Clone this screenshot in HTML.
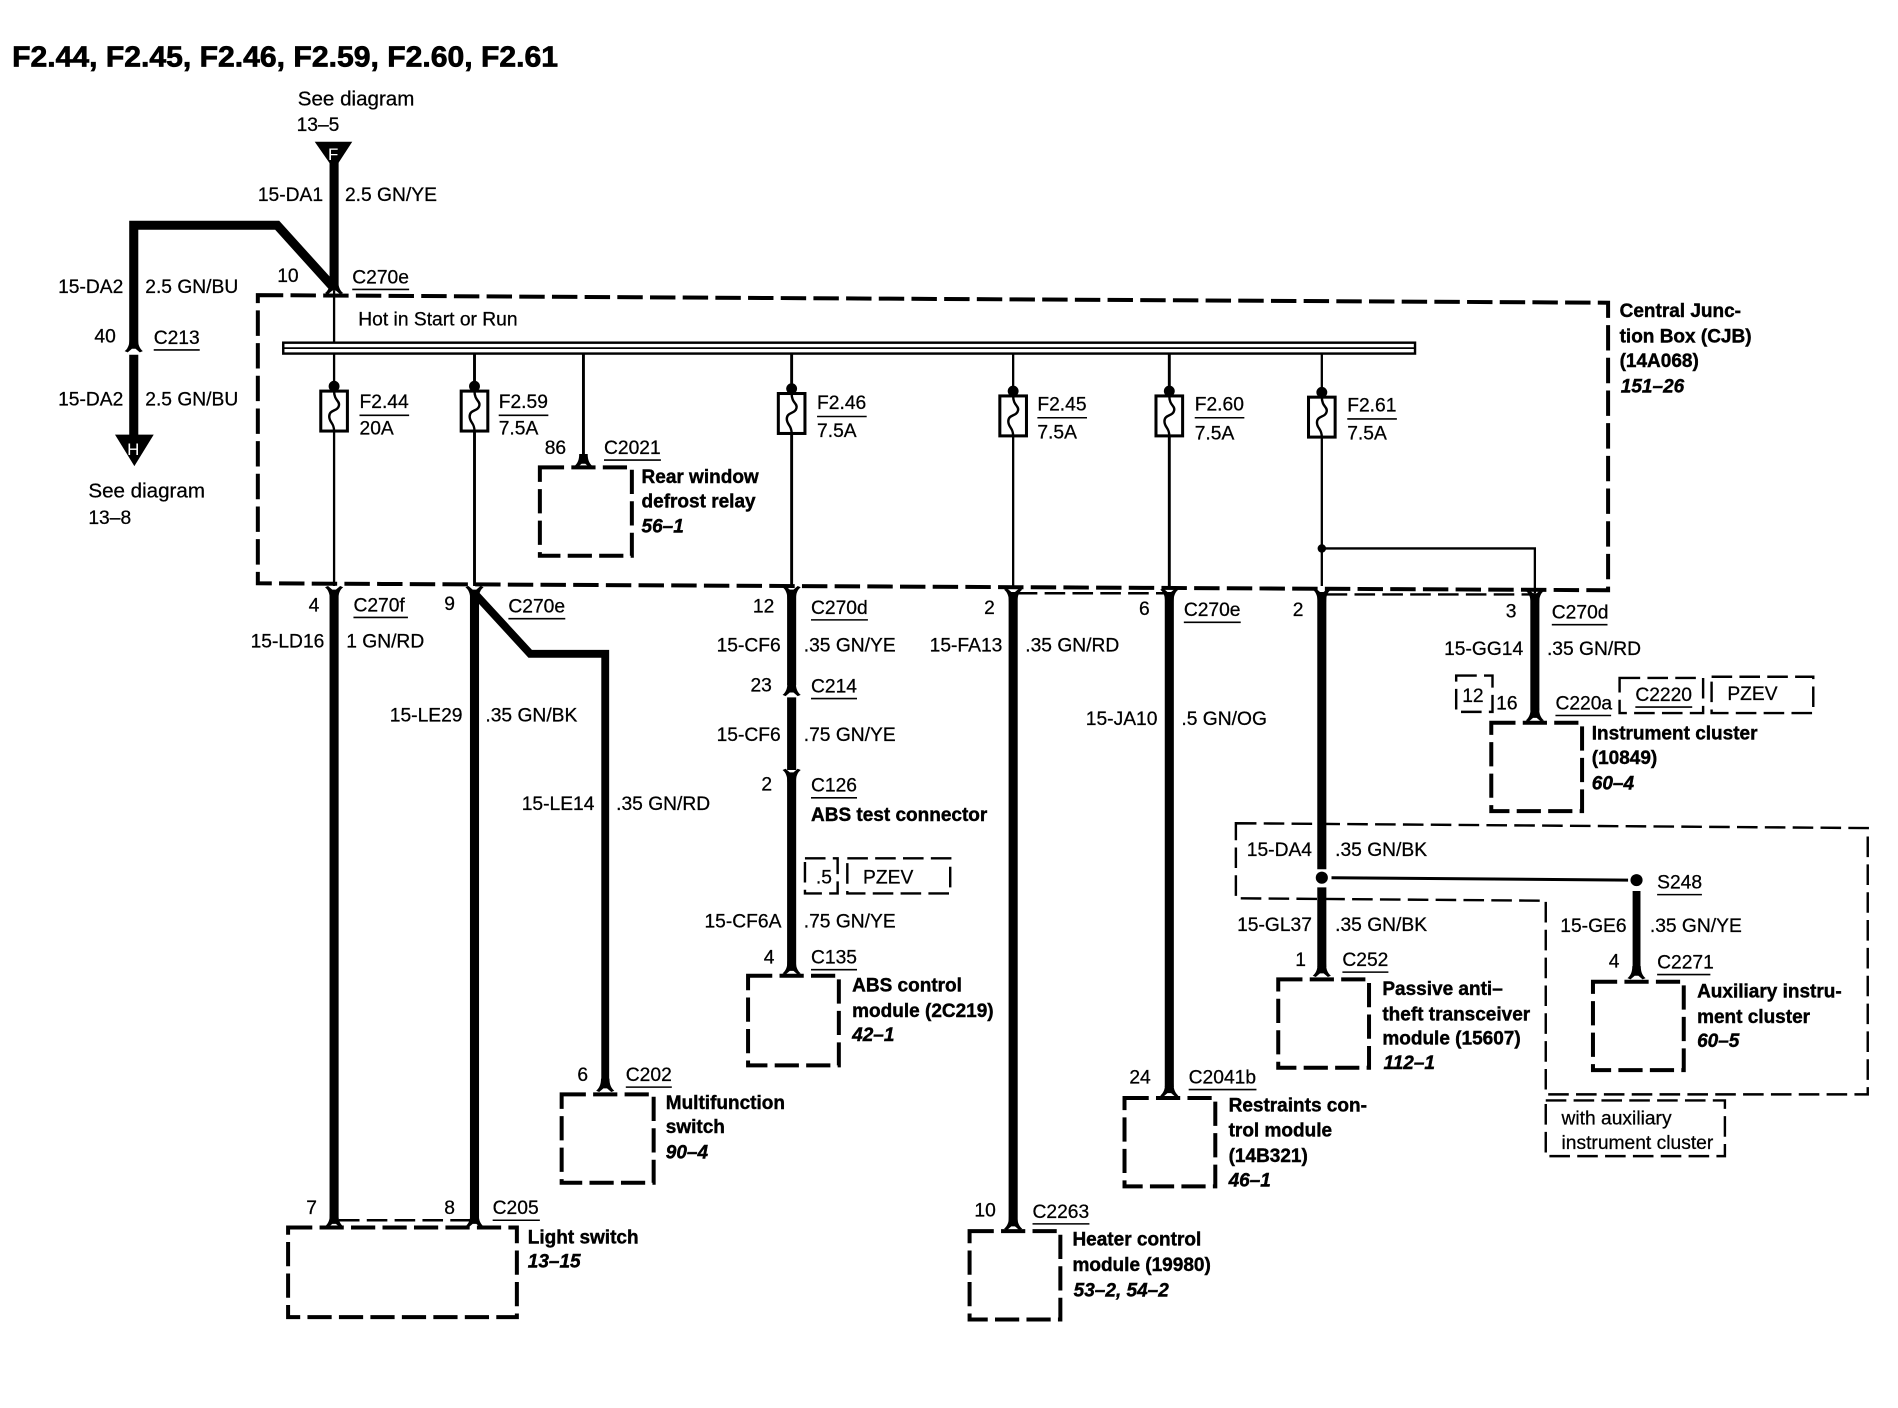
<!DOCTYPE html>
<html><head><meta charset="utf-8"><style>
html,body{margin:0;padding:0;background:#fff}
svg{display:block}
text{font-family:"Liberation Sans",sans-serif;font-size:15.9px;fill:#000;stroke:#000;stroke-width:.22}
.s{font-size:17px}
.b{font-weight:bold;font-size:15.7px;stroke-width:.35}
.i{font-weight:bold;font-style:italic;font-size:15.7px;stroke-width:.35}
.w{stroke:#000;stroke-width:7.5;fill:none}
.t{stroke:#000;stroke-width:1.9;fill:none}
.d{stroke:#000;stroke-width:3.3;stroke-dasharray:20 6;fill:none}
.j{stroke:#000;stroke-width:3.3;stroke-dasharray:21 6;fill:none}
.n{stroke:#000;stroke-width:2;stroke-dasharray:17 6;fill:none}
.u{stroke:#000;stroke-width:1.3;fill:none}
</style></head><body>
<svg xmlns="http://www.w3.org/2000/svg" width="1898" height="1408" viewBox="0 0 1568 1163">
<defs>
<path id="up" d="M-3.5,-6 L3.5,-6 C3.5,-1 5,2 7.5,4 L5,5 L1.5,2 L-1.5,2 L-5,5 L-7.5,4 C-5,2 -3.5,-1 -3.5,-6Z" fill="#000"/>
<path id="dn" d="M-3.5,6 L3.5,6 C3.5,1 5,-2 7.5,-4 L5,-5 L1.5,-2 L-1.5,-2 L-5,-5 L-7.5,-4 C-5,-2 -3.5,1 -3.5,6Z" fill="#000"/>
<g id="fu"><circle cx="0" cy="-4" r="4.5" fill="#000"/><rect x="-11" y="0" width="22" height="33" fill="#fff" stroke="#000" stroke-width="2.5"/><path d="M0,0 C0,8 5,8 4,12 C3,17 -4,15 -4,21 C-4,26 0,26 0,33" stroke="#000" stroke-width="2" fill="none"/></g>
</defs>
<rect width="1568" height="1163" fill="#fff"/>

<text x="10" y="55" style="font-weight:bold;font-size:24px;stroke-width:.6" textLength="451" lengthAdjust="spacingAndGlyphs">F2.44, F2.45, F2.46, F2.59, F2.60, F2.61</text>

<!-- junction and option boxes -->
<path class="j" d="M213,243.7 L1328.5,250 L1328.5,487.5 L213,481.8 Z"/>
<path class="n" d="M1021,680 L1543,684 L1543,904 L1277,904 L1277,744 L1021,742 Z"/>
<rect class="n" x="1277" y="909" width="148" height="46"/>
<rect class="n" x="665" y="709" width="27" height="29"/>
<rect class="n" x="700" y="709" width="85" height="29"/>
<rect class="n" x="1203" y="558" width="30" height="30"/>
<rect class="n" x="1338" y="560" width="69" height="29"/>
<rect class="n" x="1414" y="559" width="84" height="30"/>

<!-- component boxes -->
<rect class="d" x="446" y="386" width="76" height="73"/>
<rect class="d" x="238" y="1014" width="189" height="74"/>
<rect class="d" x="464" y="904" width="76" height="73"/>
<rect class="d" x="618" y="806" width="75" height="74"/>
<rect class="d" x="801" y="1017" width="75" height="73"/>
<rect class="d" x="929" y="907" width="75" height="73"/>
<rect class="d" x="1056" y="809" width="75" height="73"/>
<rect class="d" x="1316" y="811" width="75" height="73"/>
<rect class="d" x="1232" y="597" width="75" height="73"/>
<path class="n" d="M280,1008 H392" stroke-width="2.5"/>
<path class="n" d="M840,490 H966"/>
<path class="n" d="M1096,491 H1268"/>

<!-- top wires -->
<polygon points="260,117 291,117 276,140" fill="#000"/>
<path class="w" d="M276,130 V235"/>
<path class="w" d="M276,238 L229,186 H110.5 V284"/>
<use href="#up" x="276" y="238"/>
<use href="#up" x="110.5" y="286"/>
<path class="w" d="M110.5,293 V362"/>
<polygon points="95,359 127,359 111,385" fill="#000"/>
<text x="271" y="132" style="font-size:14px;fill:#fff;stroke:none">F</text>
<text x="105" y="376" style="font-size:14px;fill:#fff;stroke:none">H</text>

<!-- bus -->
<path class="t" d="M276,240 V283"/>
<rect x="234" y="283" width="935" height="9" fill="#fff" stroke="#000" stroke-width="2"/>
<path d="M234,287.5 H1169" stroke="#000" stroke-width="1.5"/>

<!-- thin wires -->
<path class="t" d="M276,292 V484"/>
<path class="t" style="stroke-width:2.4" d="M392,292 V484"/>
<path class="t" style="stroke-width:2.4" d="M482,292 V380"/>
<path class="t" style="stroke-width:2.4" d="M654,292 V484"/>
<path class="t" d="M837,292 V484"/>
<path class="t" style="stroke-width:2.4" d="M966,292 V484"/>
<path class="t" d="M1092,292 V484"/>
<path class="t" d="M1092,453 H1268 V490"/>
<circle cx="1092" cy="453" r="3.5" fill="#000"/>
<use href="#up" x="482" y="381"/>

<use href="#fu" x="276" y="323"/>
<use href="#fu" x="392" y="323"/>
<use href="#fu" x="654" y="325"/>
<use href="#fu" x="837" y="327"/>
<use href="#fu" x="966" y="327"/>
<use href="#fu" x="1092" y="328"/>

<!-- lower wires -->
<use href="#dn" x="276" y="489"/>
<path class="w" d="M276,488 V1008"/>
<use href="#up" x="276" y="1009"/>
<use href="#dn" x="392" y="489"/>
<path class="w" d="M392,488 V1008"/>
<use href="#up" x="392" y="1009"/>
<path class="w" style="stroke-width:6.5" d="M392,490 L438,540 H500 V896"/>
<use href="#up" x="500" y="897"/>
<use href="#dn" x="654" y="489"/>
<path class="w" d="M654,488 V566"/>
<use href="#up" x="654" y="570"/>
<path class="w" d="M654,576 V636"/>
<use href="#dn" x="654" y="640"/>
<path class="w" d="M654,640 V798"/>
<use href="#up" x="654" y="800"/>
<use href="#dn" x="837" y="491"/>
<path class="w" d="M837,490 V1009"/>
<use href="#up" x="837" y="1011"/>
<use href="#dn" x="966" y="491"/>
<path class="w" d="M966,490 V898"/>
<use href="#up" x="966" y="901"/>
<use href="#dn" x="1092" y="491"/>
<path class="w" d="M1092,490 V718"/>
<circle cx="1092" cy="725" r="5" fill="#000"/>
<path class="w" d="M1092,733 V799"/>
<use href="#up" x="1092" y="802"/>
<path d="M1100,725 L1345,727" stroke="#000" stroke-width="2.5"/>
<circle cx="1352" cy="727" r="5" fill="#000"/>
<path class="w" style="stroke-width:6.5" d="M1352,736 V800"/>
<use href="#up" x="1352" y="804"/>
<use href="#dn" x="1268" y="492"/>
<path class="w" d="M1268,491 V587"/>
<use href="#up" x="1268" y="591"/>

<!-- underlines -->
<path class="u" d="M291,239H338 M127,289H165 M297,343H338 M412,343H453 M499,380H546 M675,344H716 M857,345H898 M987,345H1028 M1113,346H1154 M292,510H337 M420,511H467 M670,512H717 M978,514H1025 M1282,516H1328 M670,577H708 M670,659H708 M1285,591H1331 M1351,584H1398 M1369,739H1406 M1109,803H1147 M1369,805H1413 M670,801H708 M517,898H555 M982,900H1038 M407,1008H446 M853,1011H900"/>

<!-- labels -->
<text class="s" x="246" y="87">See diagram</text><text x="245" y="108">13–5</text>
<text x="213" y="166">15-DA1</text><text x="285" y="166">2.5 GN/YE</text>
<text x="229" y="233">10</text><text x="291" y="234">C270e</text>
<text x="48" y="242">15-DA2</text><text x="120" y="242">2.5 GN/BU</text>
<text x="78" y="283">40</text><text x="127" y="284">C213</text>
<text x="48" y="335">15-DA2</text><text x="120" y="335">2.5 GN/BU</text>
<text class="s" x="73" y="411">See diagram</text><text x="73" y="433">13–8</text>
<text x="296" y="269">Hot in Start or Run</text>
<text x="297" y="337">F2.44</text><text x="297" y="359">20A</text>
<text x="412" y="337">F2.59</text><text x="412" y="359">7.5A</text>
<text x="450" y="375">86</text><text x="499" y="375">C2021</text>
<text class="b" x="530" y="399">Rear window</text><text class="b" x="530" y="419">defrost relay</text><text class="i" x="530" y="440">56–1</text>
<text x="675" y="338">F2.46</text><text x="675" y="361">7.5A</text>
<text x="857" y="339">F2.45</text><text x="857" y="362">7.5A</text>
<text x="987" y="339">F2.60</text><text x="987" y="363">7.5A</text>
<text x="1113" y="340">F2.61</text><text x="1113" y="363">7.5A</text>
<text class="b" x="1338" y="262">Central Junc-</text><text class="b" x="1338" y="283">tion Box (CJB)</text><text class="b" x="1338" y="303">(14A068)</text><text class="i" x="1339" y="324">151–26</text>
<text x="255" y="505">4</text><text x="292" y="505">C270f</text>
<text x="367" y="504">9</text><text x="420" y="506">C270e</text>
<text x="622" y="506">12</text><text x="670" y="507">C270d</text>
<text x="813" y="507">2</text>
<text x="941" y="508">6</text><text x="978" y="509">C270e</text>
<text x="1068" y="509">2</text>
<text x="1244" y="510">3</text><text x="1282" y="511">C270d</text>
<text x="207" y="535">15-LD16</text><text x="286" y="535">1 GN/RD</text>
<text x="322" y="596">15-LE29</text><text x="401" y="596">.35 GN/BK</text>
<text x="431" y="669">15-LE14</text><text x="509" y="669">.35 GN/RD</text>
<text x="592" y="538">15-CF6</text><text x="664" y="538">.35 GN/YE</text>
<text x="768" y="538">15-FA13</text><text x="847" y="538">.35 GN/RD</text>
<text x="620" y="571">23</text><text x="670" y="572">C214</text>
<text x="592" y="612">15-CF6</text><text x="664" y="612">.75 GN/YE</text>
<text x="629" y="653">2</text><text x="670" y="654">C126</text>
<text class="b" x="670" y="678">ABS test connector</text>
<text x="897" y="599">15-JA10</text><text x="976" y="599">.5 GN/OG</text>
<text x="1193" y="541">15-GG14</text><text x="1278" y="541">.35 GN/RD</text>
<text x="1208" y="580">12</text><text x="1236" y="586">16</text><text x="1285" y="586">C220a</text><text x="1351" y="579">C2220</text><text x="1427" y="578">PZEV</text>
<text class="b" x="1315" y="611">Instrument cluster</text><text class="b" x="1315" y="631">(10849)</text><text class="i" x="1315" y="652">60–4</text>
<text x="1030" y="707">15-DA4</text><text x="1103" y="707">.35 GN/BK</text>
<text x="1369" y="734">S248</text>
<text x="1022" y="769">15-GL37</text><text x="1103" y="769">.35 GN/BK</text>
<text x="1289" y="770">15-GE6</text><text x="1363" y="770">.35 GN/YE</text>
<text x="1070" y="798">1</text><text x="1109" y="798">C252</text>
<text x="1329" y="799">4</text><text x="1369" y="800">C2271</text>
<text class="b" x="1142" y="822">Passive anti–</text><text class="b" x="1142" y="843">theft transceiver</text><text class="b" x="1142" y="863">module (15607)</text><text class="i" x="1143" y="883">112–1</text>
<text class="b" x="1402" y="824">Auxiliary instru-</text><text class="b" x="1402" y="845">ment cluster</text><text class="i" x="1402" y="865">60–5</text>
<text x="1290" y="929">with auxiliary</text><text x="1290" y="949">instrument cluster</text>
<text x="674" y="730">.5</text><text x="713" y="730">PZEV</text>
<text x="582" y="766">15-CF6A</text><text x="664" y="766">.75 GN/YE</text>
<text x="631" y="796">4</text><text x="670" y="796">C135</text>
<text class="b" x="704" y="819">ABS control</text><text class="b" x="704" y="840">module (2C219)</text><text class="i" x="704" y="860">42–1</text>
<text x="477" y="893">6</text><text x="517" y="893">C202</text>
<text class="b" x="550" y="916">Multifunction</text><text class="b" x="550" y="936">switch</text><text class="i" x="550" y="957">90–4</text>
<text x="933" y="895">24</text><text x="982" y="895">C2041b</text>
<text class="b" x="1015" y="918">Restraints con-</text><text class="b" x="1015" y="939">trol module</text><text class="b" x="1015" y="960">(14B321)</text><text class="i" x="1015" y="980">46–1</text>
<text x="253" y="1003">7</text><text x="367" y="1003">8</text><text x="407" y="1003">C205</text>
<text class="b" x="436" y="1027">Light switch</text><text class="i" x="436" y="1047">13–15</text>
<text x="805" y="1005">10</text><text x="853" y="1006">C2263</text>
<text class="b" x="886" y="1029">Heater control</text><text class="b" x="886" y="1050">module (19980)</text><text class="i" x="887" y="1071">53–2, 54–2</text>
</svg>
</body></html>
